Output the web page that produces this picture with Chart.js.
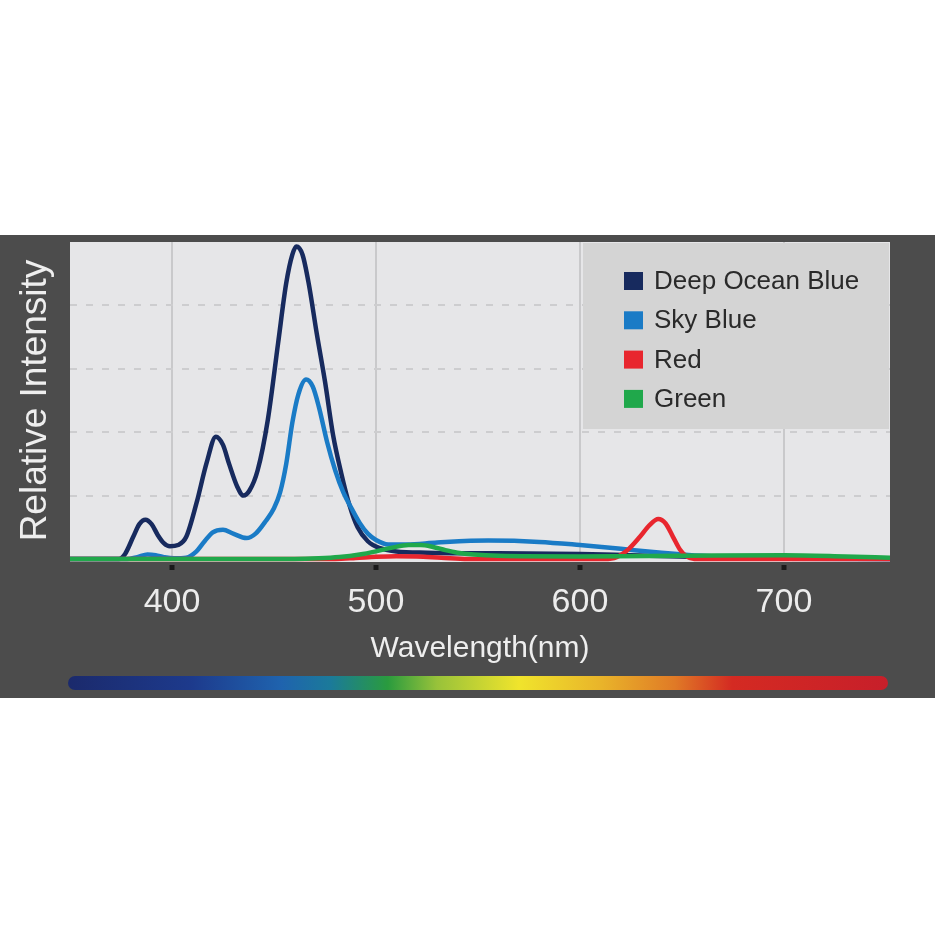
<!DOCTYPE html>
<html>
<head>
<meta charset="utf-8">
<script src="https://cdn.jsdelivr.net/npm/chart.js@4.4.1/dist/chart.umd.min.js"></script>
<style>
html,body{margin:0;padding:0;background:#ffffff;}
#c{display:block;}
</style>
</head>
<body>
<canvas id="c" width="935" height="935"></canvas>
<script>
// ---- data ----
const seriesNames = ['Deep Ocean Blue', 'Sky Blue', 'Red', 'Green'];
const seriesColors = ['#172a5e', '#1a7bc6', '#e8262e', '#20a84b'];

const deepOceanWl  = [350, 374, 377, 381, 384, 387, 390, 393, 396, 399, 403, 407, 412, 417, 421.5, 425, 428, 432, 435, 438, 442, 447, 452, 456, 459, 461, 464, 467, 471, 475, 479, 483, 487, 491, 496, 502, 510, 525, 560, 600, 625, 660, 700, 752];
const deepOceanVal = [0, 0, 0.08, 0.35, 0.55, 0.62, 0.55, 0.38, 0.25, 0.2, 0.22, 0.35, 0.88, 1.52, 1.93, 1.8, 1.5, 1.14, 1.0, 1.08, 1.4, 2.2, 3.4, 4.35, 4.8, 4.93, 4.8, 4.35, 3.55, 2.8, 1.95, 1.35, 0.85, 0.5, 0.28, 0.17, 0.12, 0.1, 0.09, 0.08, 0.06, 0.03, 0.01, 0];

const skyBlueWl  = [350, 378, 383, 388, 392, 396, 401, 407, 412, 416, 420, 425, 430, 436.5, 441, 446, 450, 453, 456, 459, 462, 465.7, 469, 472, 476, 480, 484, 488, 492, 496, 500, 506, 515, 530, 555, 580, 600, 620, 640, 660, 680, 700, 752];
const skyBlueVal = [0, 0, 0.03, 0.07, 0.06, 0.03, 0.01, 0.02, 0.12, 0.28, 0.42, 0.46, 0.4, 0.33, 0.4, 0.6, 0.8, 1.05, 1.5, 2.15, 2.6, 2.83, 2.72, 2.4, 1.85, 1.4, 1.05, 0.8, 0.57, 0.4, 0.3, 0.23, 0.23, 0.26, 0.29, 0.27, 0.22, 0.16, 0.1, 0.05, 0.02, 0.005, 0];

const redWl  = [350, 480, 490, 500, 510, 520, 532, 545, 612, 618, 624, 629.4, 634, 638.4, 642, 645.6, 649, 652.3, 656, 752];
const redVal = [0, 0, 0.015, 0.035, 0.045, 0.04, 0.02, 0, 0, 0.03, 0.16, 0.35, 0.53, 0.63, 0.56, 0.35, 0.15, 0.04, 0, 0];

const greenWl  = [350, 460, 472, 482, 492, 500, 508, 516, 522, 528, 534, 540, 548, 560, 600, 650, 700, 730, 752];
const greenVal = [0, 0, 0.01, 0.03, 0.07, 0.12, 0.18, 0.22, 0.22, 0.19, 0.14, 0.1, 0.07, 0.05, 0.04, 0.05, 0.06, 0.04, 0.02];

const xTickValues = [400, 500, 600, 700];
const xTitle = 'Wavelength(nm)';
const yTitle = 'Relative Intensity';

// spectrum colour stops (fraction along bar, colour)
const spectrumStops = [[0, '#1b2a6c'], [0.15, '#1d3a8c'], [0.26, '#1f63ae'], [0.32, '#1b7a9a'], [0.39, '#2a9b3e'], [0.45, '#98c23a'], [0.55, '#f0e42c'], [0.65, '#e9b42a'], [0.74, '#e07a26'], [0.81, '#d42a22'], [1, '#c71f2a']];

// ---- build datasets ----
const toPts = (wl, v) => wl.map((w, i) => ({x: w, y: v[i]}));
const wlArrays = [deepOceanWl, skyBlueWl, redWl, greenWl];
const valArrays = [deepOceanVal, skyBlueVal, redVal, greenVal];
const drawOrder = [3, 2, 1, 0];

const datasets = seriesNames.map((name, i) => ({
  label: name,
  data: toPts(wlArrays[i], valArrays[i]),
  borderColor: seriesColors[i],
  backgroundColor: seriesColors[i],
  borderWidth: 4.5,
  pointRadius: 0,
  fill: false,
  cubicInterpolationMode: 'monotone',
  clip: 6,
  order: drawOrder[i]
}));

const FONT = '"Liberation Sans", Arial, sans-serif';

const bgPlugin = {
  id: 'panelBg',
  beforeDraw(chart) {
    const {ctx, chartArea: a} = chart;
    ctx.save();
    ctx.fillStyle = '#4c4c4c';
    ctx.fillRect(0, 235, 935, 463);
    ctx.fillStyle = '#e6e6e8';
    ctx.fillRect(a.left, a.top, a.right - a.left, a.bottom - a.top + 3);
    // spectrum bar
    const x0 = a.left - 2, x1 = a.right - 2, y0 = 676, h = 14;
    const g = ctx.createLinearGradient(x0, 0, x1, 0);
    spectrumStops.forEach(s => g.addColorStop(s[0], s[1]));
    ctx.fillStyle = g;
    ctx.beginPath();
    if (ctx.roundRect) ctx.roundRect(x0, y0, x1 - x0, h, h / 2); else ctx.rect(x0, y0, x1 - x0, h);
    ctx.fill();
    ctx.restore();
  }
};

const legendPlugin = {
  id: 'boxLegend',
  afterDatasetsDraw(chart) {
    const ctx = chart.ctx;
    ctx.save();
    ctx.fillStyle = '#d4d4d4';
    ctx.fillRect(583, 243, 306, 186);
    ctx.font = '26px ' + FONT;
    ctx.textBaseline = 'middle';
    ctx.textAlign = 'left';
    chart.data.datasets.forEach((ds, i) => {
      const cy = 281 + i * 39.3;
      ctx.fillStyle = ds.borderColor;
      ctx.fillRect(624, cy - 9, 19, 18);
      ctx.fillStyle = '#2a2a2a';
      ctx.fillText(ds.label, 654, cy + 1);
    });
    ctx.restore();
  }
};

new Chart(document.getElementById('c'), {
  type: 'line',
  data: {datasets},
  plugins: [bgPlugin, legendPlugin],
  options: {
    responsive: false,
    animation: false,
    devicePixelRatio: 1,
    layout: {padding: {top: 242, left: 0, right: 45, bottom: 237}},
    plugins: {legend: {display: false}, tooltip: {enabled: false}},
    scales: {
      x: {
        type: 'linear',
        min: 350,
        max: 752,
        afterBuildTicks: (s) => { s.ticks = xTickValues.map(v => ({value: v})); },
        afterFit: (s) => { s.height = 139; },
        border: {display: false},
        grid: {
          color: '#c9c9cb',
          lineWidth: 2,
          drawTicks: true,
          tickLength: 12,
          tickColor: '#1a1a1a',
          tickWidth: 5,
          tickBorderDash: [0, 6, 5, 100]
        },
        ticks: {
          color: '#ececec',
          font: {family: FONT, size: 34},
          padding: 11,
          maxRotation: 0,
          autoSkip: false
        },
        title: {
          display: true,
          text: xTitle,
          color: '#eeeeee',
          font: {family: FONT, size: 30},
          padding: {top: 0, bottom: 31}
        }
      },
      y: {
        type: 'linear',
        min: 0,
        max: 5,
        afterFit: (s) => { s.width = 70; },
        border: {display: false, dash: [7, 9]},
        grid: {
          color: (c) => (c.tick && (c.tick.value === 0 || c.tick.value === 5)) ? 'rgba(0,0,0,0)' : '#cdcdcf',
          lineWidth: 2,
          drawTicks: false
        },
        ticks: {display: false, stepSize: 1},
        title: {
          display: true,
          text: yTitle,
          color: '#eeeeee',
          font: {family: FONT, size: 37},
          padding: {top: 14, bottom: 0}
        }
      }
    }
  }
});
</script>
</body>
</html>
